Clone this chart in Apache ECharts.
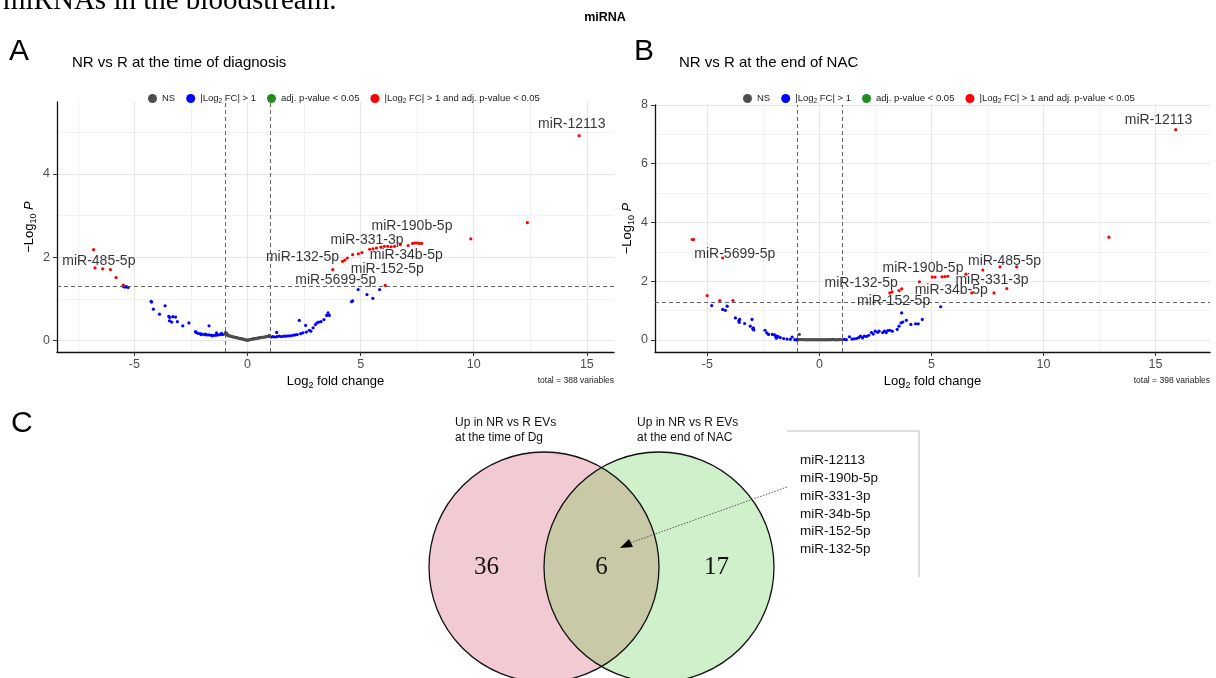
<!DOCTYPE html>
<html>
<head>
<meta charset="utf-8">
<script src="https://cdn.jsdelivr.net/npm/echarts@6/dist/echarts.min.js"></script>
<style>
html, body { margin: 0; padding: 0; background: #fff; }
#main { width: 1216px; height: 678px; }
</style>
</head>
<body>
<div id="main"></div>
<script>
// ---- data ----
var xTicks = [-5, 0, 5, 10, 15];
var yTicksA = [0, 2, 4];
var yTicksB = [0, 2, 4, 6, 8];
var fcCut = 1, pCut = 0.05;

var legendNames = ['NS', 'FC', 'P', 'FCP'];
var legendTexts = ['NS', '|Log{s|2} FC| > 1', 'adj. p-value < 0.05', '|Log{s|2} FC| > 1 and adj. p-value < 0.05'];

// panel A : NR vs R at the time of diagnosis
var nsA = [[-0.98,0.15],[-0.97,0.19],[-0.95,0.13],[-0.92,0.14],[-0.9,0.16],[-0.87,0.12],[-0.83,0.11],[-0.79,0.11],[-0.75,0.1],[-0.71,0.09],[-0.67,0.09],[-0.63,0.08],[-0.59,0.08],[-0.55,0.07],[-0.51,0.07],[-0.47,0.06],[-0.43,0.06],[-0.39,0.05],[-0.35,0.05],[-0.31,0.04],[-0.27,0.04],[-0.23,0.03],[-0.19,0.03],[-0.15,0.02],[-0.11,0.015],[-0.07,0.01],[-0.03,0.005],[0.01,0.003],[0.05,0.01],[0.09,0.015],[0.13,0.02],[0.17,0.025],[0.21,0.03],[0.25,0.035],[0.29,0.04],[0.33,0.04],[0.37,0.045],[0.41,0.05],[0.45,0.055],[0.49,0.06],[0.53,0.06],[0.57,0.065],[0.61,0.07],[0.65,0.07],[0.69,0.075],[0.73,0.08],[0.77,0.08],[0.81,0.085],[0.85,0.09],[0.89,0.09],[0.93,0.095],[0.97,0.1],[0.96,0.12]];
var fcA = [[-5.5,1.3],[-5.42,1.28],[-5.35,1.29],[-5.28,1.27],[-4.26,0.94],[-4.24,0.92],[-4.16,0.75],[-3.64,0.83],[-3.89,0.63],[-3.48,0.58],[-3.44,0.55],[-3.3,0.57],[-3.18,0.56],[-3.45,0.47],[-3.35,0.44],[-3.1,0.45],[-2.86,0.35],[-2.59,0.42],[-2.3,0.21],[-2.27,0.19],[-2.2,0.17],[-2.1,0.16],[-2.05,0.14],[-2.0,0.15],[-1.9,0.14],[-1.85,0.15],[-1.8,0.13],[-1.7,0.13],[-1.7,0.35],[-1.6,0.12],[-1.55,0.11],[-1.5,0.12],[-1.4,0.12],[-1.37,0.18],[-1.3,0.13],[-1.2,0.14],[-1.15,0.17],[-1.1,0.14],
  [1.05,0.08],[1.12,0.09],[1.2,0.08],[1.29,0.19],[1.3,0.09],[1.4,0.1],[1.5,0.09],[1.6,0.1],[1.7,0.1],[1.8,0.11],[1.9,0.11],[2.0,0.12],[2.1,0.13],[2.2,0.14],[2.29,0.48],[2.35,0.16],[2.45,0.18],[2.57,0.36],[2.6,0.2],[2.73,0.24],[2.8,0.22],[2.9,0.3],[3.0,0.38],[3.07,0.42],[3.15,0.44],[3.25,0.45],[3.38,0.5],[3.5,0.6],[3.56,0.66],[3.62,0.6],[4.6,0.93],[4.65,0.95],[4.89,1.22],[5.28,1.1],[5.54,1.01],[5.84,1.22]];
var fcpA = [[14.66,4.92],[12.37,2.83],[9.87,2.44],[7.3,2.33],[7.4,2.34],[7.5,2.34],[7.6,2.33],[7.7,2.33],[7.1,2.28],[6.75,2.3],[6.05,2.26],[6.2,2.26],[6.35,2.25],[6.5,2.26],[5.9,2.24],[5.7,2.22],[5.55,2.2],[5.4,2.19],[5.06,2.11],[4.9,2.08],[4.65,2.06],[4.41,1.98],[4.3,1.93],[4.2,1.9],[3.77,1.7],[6.09,1.32],
  [-6.8,2.18],[-6.74,1.74],[-6.4,1.72],[-6.06,1.7],[-5.81,1.51],[-5.49,1.33]];
var labA = [['miR-12113',14.33,5.2],['miR-190b-5p',7.27,2.75],['miR-331-3p',5.28,2.42],['miR-132-5p',2.43,2.01],['miR-34b-5p',7.02,2.04],['miR-152-5p',6.18,1.72],['miR-5699-5p',3.9,1.45],['miR-485-5p',-6.57,1.9]];

// panel B : NR vs R at the end of NAC
var nsB = [[-0.9,0.19],[-0.98,0.02],[-0.93,0.01],[-0.87,0.01],[-0.81,0.015],[-0.75,0.01],[-0.69,0.01],[-0.63,0.005],[-0.57,0.01],[-0.51,0.005],[-0.45,0.01],[-0.39,0.005],[-0.33,0.01],[-0.27,0.005],[-0.21,0.01],[-0.15,0.005],[-0.09,0.01],[-0.03,0.005],[0.03,0.01],[0.09,0.005],[0.15,0.01],[0.21,0.005],[0.27,0.01],[0.33,0.005],[0.39,0.01],[0.45,0.01],[0.51,0.005],[0.57,0.02],[0.63,0.01],[0.69,0.005],[0.75,0.01],[0.81,0.005],[0.87,0.01],[0.93,0.015],[0.98,0.01]];
var fcB = [[-4.81,1.17],[-4.32,1.04],[-4.2,1.01],[-4.12,1.15],[-3.75,0.75],[-3.6,0.65],[-3.56,0.7],[-3.58,0.6],[-3.34,0.56],[-3.09,0.47],[-2.98,0.38],[-3.01,0.7],[-2.93,0.34],[-2.95,0.41],[-2.43,0.33],[-2.35,0.24],[-2.27,0.19],[-2.1,0.19],[-2.0,0.17],[-1.96,0.15],[-1.94,0.1],[-1.92,0.06],[-1.85,0.12],[-1.75,0.08],[-1.6,0.05],[-1.45,0.03],[-1.3,0.02],[-1.22,0.1],[-1.1,0.01],[-1.02,0.0],
  [1.1,0.02],[1.2,0.01],[1.34,0.11],[1.45,0.03],[1.55,0.04],[1.65,0.05],[1.75,0.08],[1.83,0.13],[1.92,0.07],[2.0,0.13],[2.1,0.12],[2.2,0.16],[2.32,0.25],[2.4,0.2],[2.49,0.3],[2.6,0.26],[2.66,0.3],[2.82,0.25],[2.9,0.3],[2.98,0.25],[3.05,0.32],[3.14,0.33],[3.25,0.3],[3.47,0.36],[3.55,0.47],[3.64,0.58],[3.72,0.61],[3.67,0.92],[3.88,0.67],[4.08,0.53],[4.29,0.55],[4.41,0.55],[4.59,0.7],[5.41,1.13]];
var fcpB = [[15.9,7.16],[12.92,3.5],[-5.68,3.42],[-5.62,3.42],[-4.32,2.79],[-5.01,1.51],[-4.45,1.34],[-3.86,1.34],
  [3.14,1.6],[3.24,1.64],[3.55,1.68],[3.67,1.74],[4.46,1.98],[5.03,2.14],[5.16,2.14],[5.47,2.15],[5.6,2.16],[5.73,2.17],[6.54,2.24],[6.8,1.6],[7.29,2.38],[7.79,1.6],[8.06,2.49],[8.36,1.75],[8.8,2.49]];
var labB = [['miR-12113',15.13,7.48],['miR-5699-5p',-3.78,2.93],['miR-190b-5p',4.62,2.45],['miR-485-5p',8.26,2.7],['miR-132-5p',1.86,1.92],['miR-331-3p',7.7,2.02],['miR-34b-5p',5.88,1.68],['miR-152-5p',3.31,1.32]];
var totalA = 388, totalB = 398;

// panel C : venn
var vennCounts = [36, 6, 17];
var vennHeads = ['Up in NR vs R EVs\nat the time of Dg', 'Up in NR vs R EVs\nat the end of NAC'];
var sharedMirs = ['miR-12113', 'miR-190b-5p', 'miR-331-3p', 'miR-34b-5p', 'miR-152-5p', 'miR-132-5p'];

// ---- chart ----
var SANS = "'Liberation Sans', Arial, sans-serif";
var SERIF = "'Liberation Serif', 'Times New Roman', serif";
var chart = echarts.init(document.getElementById('main'));

var nameRich = {
    t: { fontSize: 13, color: '#000', fontFamily: SANS },
    s: { fontSize: 9, color: '#000', fontFamily: SANS, verticalAlign: 'bottom', lineHeight: 17 },
    i: { fontSize: 13, color: '#000', fontFamily: SANS, fontStyle: 'italic' }
};

function xAx(gi, min, max) {
    return {
        type: 'value', gridIndex: gi, min: min, max: max, splitNumber: 5,
        name: '{t|Log}{s|2}{t| fold change}', nameLocation: 'middle', nameGap: 21,
        nameTextStyle: { rich: nameRich },
        axisLine: { show: true, onZero: false, lineStyle: { color: '#111', width: 1.3 } },
        axisTick: { show: true, length: 4, customValues: xTicks, lineStyle: { color: '#333' } },
        axisLabel: { customValues: xTicks, color: '#4d4d4d', fontSize: 12.5, margin: 6, fontFamily: SANS },
        splitLine: { show: true, lineStyle: { color: '#e6e6e6', width: 1.2 } },
        minorTick: { show: false, splitNumber: 2 },
        minorSplitLine: { show: true, lineStyle: { color: '#efefef', width: 0.9 } }
    };
}
function yAx(gi, min, max, ticks, split) {
    return {
        type: 'value', gridIndex: gi, min: min, max: max, splitNumber: split,
        name: '{t|\u2212Log}{s|10}{t| }{i|P}', nameLocation: 'middle', nameGap: 19, nameRotate: 90,
        nameTextStyle: { rich: nameRich },
        axisLine: { show: true, onZero: false, lineStyle: { color: '#111', width: 1.3 } },
        axisTick: { show: true, length: 4, customValues: ticks, lineStyle: { color: '#333' } },
        axisLabel: { customValues: ticks, color: '#4d4d4d', fontSize: 12.5, margin: 7, fontFamily: SANS },
        splitLine: { show: true, lineStyle: { color: '#e6e6e6', width: 1.2 } },
        minorTick: { show: false, splitNumber: 2 },
        minorSplitLine: { show: true, lineStyle: { color: '#efefef', width: 0.9 } }
    };
}

function volcano(gi, ns, fc, fcp, labs) {
    var base = { type: 'scatter', xAxisIndex: gi, yAxisIndex: gi, symbolSize: 3.2, silent: true, animation: false };
    return [
        Object.assign({}, base, { name: 'NS', data: ns, itemStyle: { color: '#4d4d4d', opacity: 1 },
            markLine: { silent: true, symbol: ['none', 'none'], label: { show: false },
                lineStyle: { type: [4, 3], color: '#555', width: 0.9 },
                data: [{ xAxis: -fcCut }, { xAxis: fcCut }, { yAxis: -Math.log10(pCut) }] } }),
        Object.assign({}, base, { name: 'FC', data: fc, itemStyle: { color: '#0000ff', opacity: 1 } }),
        Object.assign({}, base, { name: 'P', data: [], itemStyle: { color: '#228b22', opacity: 1 } }),
        Object.assign({}, base, { name: 'FCP', data: fcp, itemStyle: { color: '#ff0000', opacity: 1 } }),
        Object.assign({}, base, { name: 'labels', symbolSize: 0, z: 5,
            data: labs.map(function (l) { return { name: l[0], value: [l[1], l[2]] }; }),
            label: { show: true, position: 'inside', formatter: '{b}', fontSize: 14, color: '#000',
                textBorderWidth: 0, fontFamily: SANS } })
    ];
}

function legendAt(left) {
    return {
        left: left, top: 87, orient: 'horizontal', selectedMode: false,
        data: legendNames, icon: 'circle', itemWidth: 9, itemHeight: 9, itemGap: 11,
        formatter: function (n) { return legendTexts[legendNames.indexOf(n)]; },
        textStyle: { fontSize: 9.5, color: '#222', fontFamily: SANS, lineHeight: 12,
            rich: { s: { fontSize: 6.5, color: '#222', fontFamily: SANS, verticalAlign: 'bottom', lineHeight: 13 } } }
    };
}

// venn geometry (pixel space of the hidden third grid)
var vennLayout = { c1: [544, 567], c2: [659, 567], r: 115 };
function renderVenn(params, api) {
    var c1 = api.coord(vennLayout.c1), c2 = api.coord(vennLayout.c2);
    var r = api.size([vennLayout.r, 0])[0];
    var i = params.dataIndex;
    var tx = [c1[0] - r * 0.5, (c1[0] + c2[0]) / 2, c2[0] + r * 0.5];
    var txt = { type: 'text', z2: 10, style: { text: String(api.value(1)), x: tx[i], y: c1[1], align: 'center', verticalAlign: 'middle',
        fontSize: 25, fontFamily: SERIF, fill: '#111' } };
    if (i !== 0) return txt;
    var half = (c2[0] - c1[0]) / 2, th = Math.acos(half / r), pts = [], k, t;
    for (k = 0; k <= 40; k++) { t = -th + 2 * th * k / 40; pts.push([c1[0] + r * Math.cos(t), c1[1] + r * Math.sin(t)]); }
    for (k = 0; k <= 40; k++) { t = Math.PI - th + 2 * th * k / 40; pts.push([c2[0] + r * Math.cos(t), c2[1] + r * Math.sin(t)]); }
    return { type: 'group', children: [
        { type: 'circle', shape: { cx: c1[0], cy: c1[1], r: r }, style: { fill: '#f2cad3', stroke: 'none' } },
        { type: 'circle', shape: { cx: c2[0], cy: c2[1], r: r }, style: { fill: '#d0efcb', stroke: 'none' } },
        { type: 'polygon', shape: { points: pts }, style: { fill: '#c9c8a7', stroke: 'none' } },
        { type: 'circle', shape: { cx: c1[0], cy: c1[1], r: r }, style: { fill: 'none', stroke: '#111', lineWidth: 1.3 } },
        { type: 'circle', shape: { cx: c2[0], cy: c2[1], r: r }, style: { fill: 'none', stroke: '#111', lineWidth: 1.3 } },
        txt
    ] };
}

function txt(text, x, y, size, extra) {
    return { type: 'text', x: x, y: y, z: 100, silent: true,
        style: Object.assign({ text: text, fontSize: size, fontFamily: SANS, fill: '#000' }, extra || {}) };
}

var option = {
    backgroundColor: '#fff',
    animation: false,
    grid: [
        { left: 57, top: 102, width: 557, height: 250 },
        { left: 655, top: 105, width: 555, height: 247 },
        { left: 0, top: 0, width: 1216, height: 678, show: false }
    ],
    xAxis: [xAx(0, -8.42, 16.2), xAx(1, -7.34, 17.43),
        { type: 'value', gridIndex: 2, min: 0, max: 1216, show: false }],
    yAxis: [yAx(0, -0.28, 5.73, yTicksA, 3), yAx(1, -0.41, 8, yTicksB, 4),
        { type: 'value', gridIndex: 2, min: 0, max: 678, inverse: true, show: false }],
    legend: [legendAt(143), legendAt(738)],
    series: volcano(0, nsA, fcA, fcpA, labA).concat(volcano(1, nsB, fcB, fcpB, labB)).concat([{
        type: 'custom', name: 'venn', xAxisIndex: 2, yAxisIndex: 2, silent: true, z: 1,
        data: vennCounts.map(function (c, i) { return [i, c]; }),
        renderItem: renderVenn
    }]),
    graphic: [
        txt('miRNAs in the bloodstream.', 3, 16, 29, { fontFamily: SERIF, verticalAlign: 'bottom' }),
        txt('miRNA', 605, 18, 12.5, { fontWeight: 'bold', align: 'center', verticalAlign: 'middle' }),
        txt('A', 9, 52, 30, { verticalAlign: 'middle' }),
        txt('B', 634, 52, 30, { verticalAlign: 'middle' }),
        txt('C', 11, 424, 30, { verticalAlign: 'middle' }),
        txt('NR vs R at the time of diagnosis', 72, 63, 15, { verticalAlign: 'middle' }),
        txt('NR vs R at the end of NAC', 679, 63, 15, { verticalAlign: 'middle' }),
        txt('total = ' + totalA + ' variables', 614, 381, 8.5, { align: 'right', verticalAlign: 'middle', fill: '#222' }),
        txt('total = ' + totalB + ' variables', 1210, 381, 8.5, { align: 'right', verticalAlign: 'middle', fill: '#222' }),
        txt(vennHeads[0], 455, 430, 12, { verticalAlign: 'middle', lineHeight: 15, fill: '#111' }),
        txt(vennHeads[1], 637, 430, 12, { verticalAlign: 'middle', lineHeight: 15, fill: '#111' }),
        txt(sharedMirs.join('\n'), 800, 505, 13.5, { verticalAlign: 'middle', lineHeight: 17.7, fill: '#111' }),
        { type: 'line', z: 100, silent: true, shape: { x1: 787, y1: 431, x2: 919, y2: 431 }, style: { stroke: '#dedede', lineWidth: 2 } },
        { type: 'line', z: 100, silent: true, shape: { x1: 919, y1: 431, x2: 919, y2: 577 }, style: { stroke: '#bbbbbb', lineWidth: 1 } },
        { type: 'line', z: 100, silent: true, shape: { x1: 787, y1: 487, x2: 630, y2: 543 }, style: { stroke: '#555', lineWidth: 1, lineDash: [1.5, 1.5] } },
        { type: 'polygon', z: 100, silent: true, shape: { points: [[620, 548], [633, 547], [629, 539]] }, style: { fill: '#000' } }
    ]
};
chart.setOption(option);
</script>
</body>
</html>
